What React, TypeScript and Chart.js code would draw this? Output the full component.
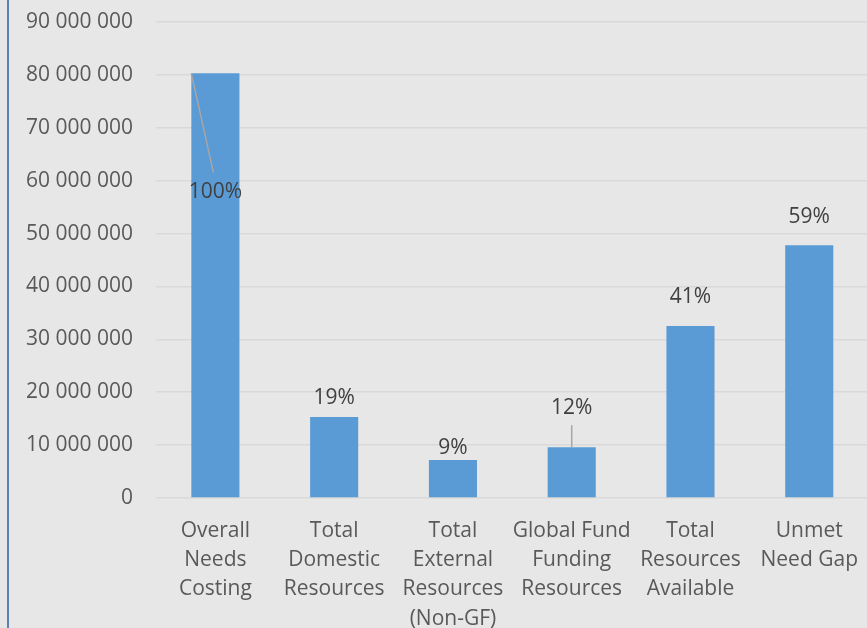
import React, { useEffect, useRef } from "react";
import { Chart, registerables } from "chart.js";

Chart.register(...registerables);

const categories: string[][] = [
  ["Overall", "Needs", "Costing"],
  ["Total", "Domestic", "Resources"],
  ["Total", "External", "Resources", "(Non-GF)"],
  ["Global Fund", "Funding", "Resources"],
  ["Total", "Resources", "Available"],
  ["Unmet", "Need Gap"],
];
const amounts: number[] = [80300000, 15300000, 7200000, 9600000, 32500000, 47800000];
const pctLabels: string[] = ["100%", "19%", "9%", "12%", "41%", "59%"];
const yTicksMax = 90000000;
const yTickStep = 10000000;

// label placement (pixels above bar top), style only
const labelOffsets = [-119, 19, 12, 39, 29, 28];

const FONT = "'Open Sans', sans-serif";

const fmt = (v: number) => String(v).replace(/\B(?=(\d{3})+(?!\d))/g, " ");

const labelPlugin = {
  id: "pctLabels",
  afterDatasetsDraw(chart: any) {
    const ctx = chart.ctx;
    const meta = chart.getDatasetMeta(0);
    ctx.save();
    meta.data.forEach((bar: any, i: number) => {
      const x = bar.x;
      const top = bar.y;
      const ly = top - labelOffsets[i];
      ctx.strokeStyle = "#a6a6a6";
      ctx.lineWidth = 1.5;
      if (i === 0) {
        ctx.beginPath();
        ctx.moveTo(x - bar.width / 2, top);
        ctx.lineTo(x - 2, ly - 20);
        ctx.stroke();
      } else if (i === 3) {
        ctx.beginPath();
        ctx.moveTo(x, ly + 17);
        ctx.lineTo(x, top);
        ctx.stroke();
      }
      ctx.fillStyle = "#404040";
      ctx.font = `21px ${FONT}`;
      ctx.textAlign = "center";
      ctx.textBaseline = "middle";
      ctx.fillText(pctLabels[i], x, ly);
    });
    ctx.restore();
  },
};

export default function App() {
  const ref = useRef<HTMLCanvasElement | null>(null);
  useEffect(() => {
    if (!ref.current) return;
    const chart = new Chart(ref.current, {
      type: "bar",
      data: {
        labels: categories,
        datasets: [
          {
            data: amounts,
            backgroundColor: "#5b9bd5",
            borderWidth: 0,
            categoryPercentage: 1,
            barPercentage: 0.405,
          },
        ],
      },
      options: {
        responsive: false,
        animation: false,
        layout: { padding: { top: 22, right: 0, bottom: 0, left: 0 } },
        plugins: {
          legend: { display: false },
          tooltip: { enabled: false },
          title: { display: false },
        },
        scales: {
          x: {
            grid: { display: false, drawTicks: false },
            border: { display: false },
            ticks: {
              color: "#595959",
              font: { family: FONT, size: 21, lineHeight: 1.4 },
              padding: 18,
              maxRotation: 0,
              autoSkip: false,
            },
            afterFit: (s: any) => {
              s.height = 130;
            },
          },
          y: {
            min: 0,
            max: yTicksMax,
            grid: {
              color: "#d9d9d9",
              lineWidth: 1.5,
              drawTicks: true,
              tickLength: 23,
              tickColor: "rgba(0,0,0,0)",
            },
            border: { display: false },
            ticks: {
              stepSize: yTickStep,
              color: "#595959",
              font: { family: FONT, size: 21 },
              padding: 0,
              callback: (v: any) => fmt(Number(v)),
            },
            afterFit: (s: any) => {
              s.width = 156;
            },
          },
        },
      },
      plugins: [labelPlugin],
    });
    return () => chart.destroy();
  }, []);

  return (
    <div
      style={{
        position: "fixed",
        left: 0,
        top: 0,
        width: 867,
        height: 628,
        background: "#e7e7e7",
        overflow: "hidden",
      }}
    >
      <canvas
        ref={ref}
        width={876}
        height={628}
        style={{ position: "absolute", left: 0, top: 0, width: 876, height: 628 }}
      />
      <div
        style={{
          position: "absolute",
          left: 7,
          top: 0,
          width: 2,
          height: 628,
          background: "#5a82b4",
        }}
      />
    </div>
  );
}
